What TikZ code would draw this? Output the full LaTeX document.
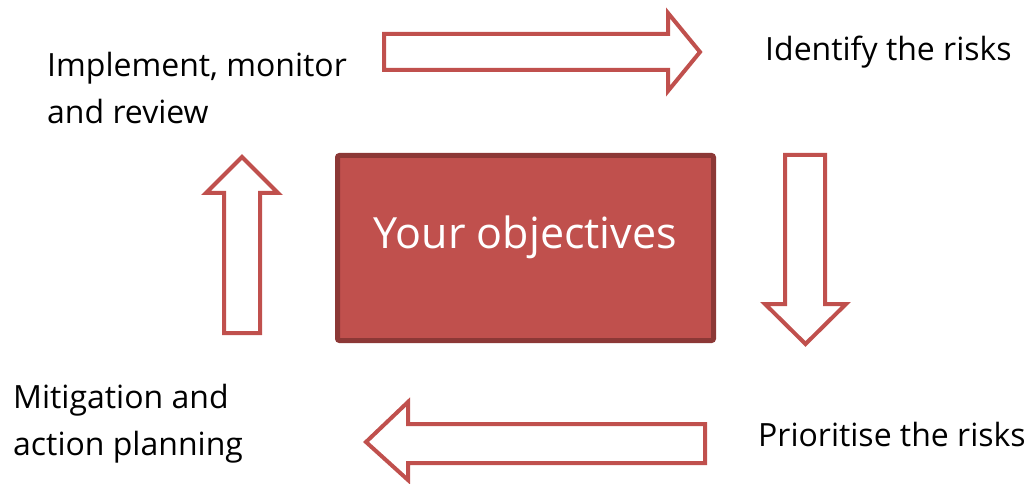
\documentclass[tikz,border=0pt]{standalone}
\usepackage{fontspec}
\setmainfont{Open Sans}
\definecolor{accent}{HTML}{C0504D}
\definecolor{accentdark}{HTML}{8C3836}
\begin{document}
\begin{tikzpicture}[x=1pt,y=-1pt,
  blockarrow/.style={draw=accent, line width=4pt, line join=miter, fill=white},
  steplabel/.style={font=\fontsize{32}{47}\selectfont, anchor=base west, inner sep=0pt, align=left, text=black},
  centerbox/.style={draw=accentdark, fill=accent, line width=5pt, rounded corners=2pt,
    minimum width=376pt, minimum height=185pt, text=white,
    font=\fontsize{43}{50}\selectfont, text height=20pt, text depth=20pt, inner sep=0pt}]
\useasboundingbox (0,0) rectangle (1029,484);
% centre box
\node[centerbox] (obj) at (525.5,248) {Your objectives};
% step labels (base anchor of a two-line node is on its last line)
\node[steplabel] (impl) at (47,124) {Implement, monitor\\and review};
\node[steplabel] (ident) at (765,61) {Identify the risks};
\node[steplabel] (prio) at (758,446) {Prioritise the risks};
\node[steplabel] (miti) at (13,455) {Mitigation and\\action planning};
% block arrows
\draw[blockarrow] (384,34) -- (668,34) -- (668,13) -- (700,52) -- (668,91) -- (668,70) -- (384,70) -- cycle;
\draw[blockarrow] (785,155) -- (825,155) -- (825,304) -- (846,304) -- (805.5,344) -- (765,304) -- (785,304) -- cycle;
\draw[blockarrow] (705,424) -- (705,463) -- (408,463) -- (408,480) -- (366,442) -- (408,402) -- (408,424) -- cycle;
\draw[blockarrow] (224,333) -- (260,333) -- (260,193) -- (278,193) -- (242,157) -- (206,193) -- (224,193) -- cycle;
\end{tikzpicture}
\end{document}
